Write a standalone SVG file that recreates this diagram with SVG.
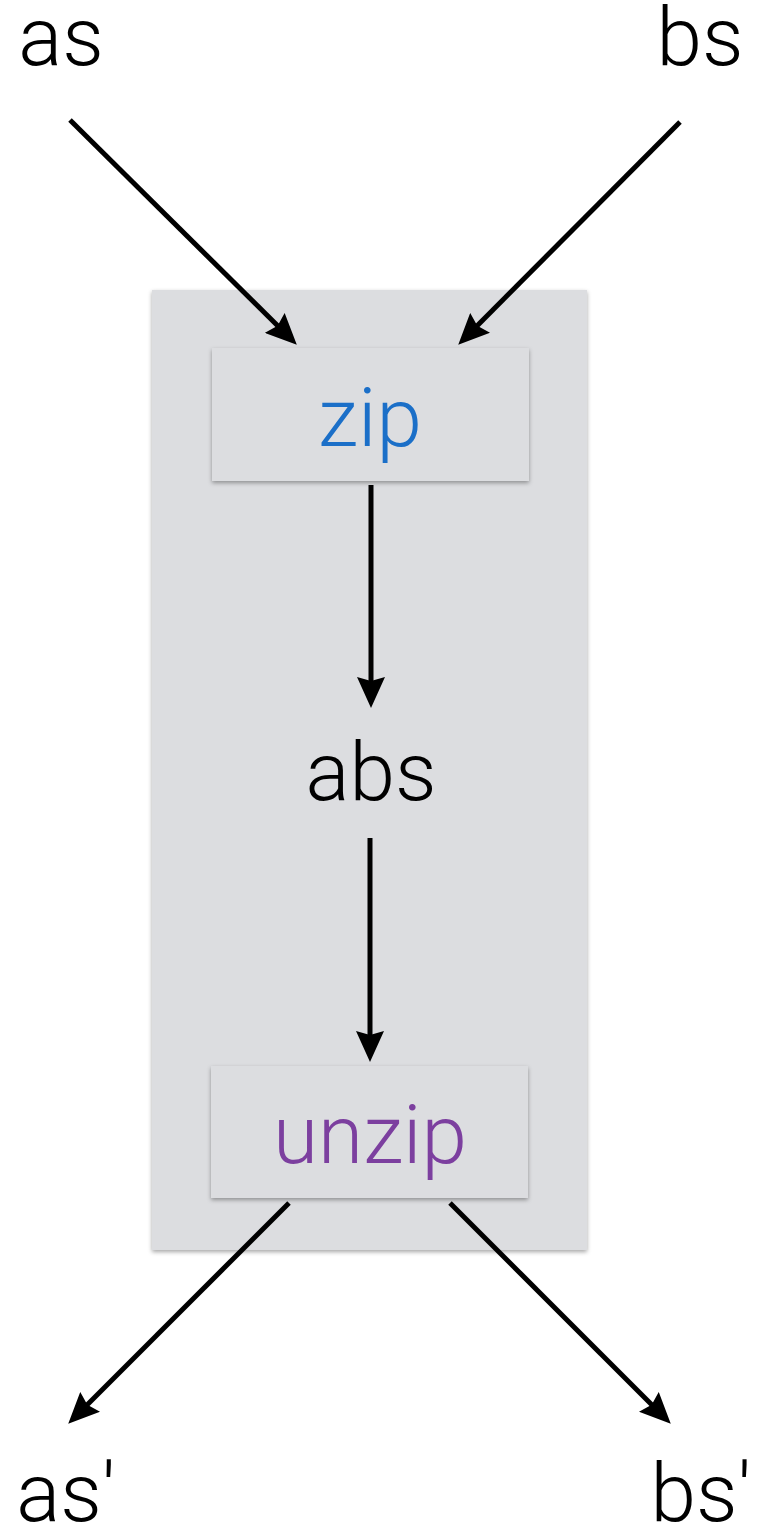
<svg xmlns="http://www.w3.org/2000/svg" width="757" height="1529" viewBox="0 0 757 1529">
<defs>
<style>
.lbl{font-family:Roboto,"Liberation Sans",sans-serif;font-weight:300;font-size:82px;fill:#000;text-anchor:middle}
.box{fill:#dcdde0}
.edge{stroke:#000;stroke-width:5;fill:none;marker-end:url(#ah)}
</style>
<marker id="ah" markerUnits="userSpaceOnUse" markerWidth="32" markerHeight="28" viewBox="0 0 32 28" refX="20" refY="14" orient="auto">
<path d="M0,0 L31,14 L0,28 L4,14 z" fill="#000"/>
</marker>
<filter id="sh" x="-10%" y="-10%" width="120%" height="120%">
<feDropShadow dx="0" dy="2" stdDeviation="2" flood-color="#000" flood-opacity="0.35"/>
</filter>
</defs>
<rect id="container" class="box" x="152" y="290" width="435" height="960" filter="url(#sh)"/>
<g id="zip"><rect class="box" x="212" y="348" width="317" height="133" filter="url(#sh)"/><text class="lbl" x="370" y="446" style="fill:#1b6fc8">zip</text></g>
<g id="unzip"><rect class="box" x="211" y="1066" width="317" height="132" filter="url(#sh)"/><text class="lbl" x="370" y="1163" style="fill:#7c3f9f">unzip</text></g>
<g id="as"><text class="lbl" x="61" y="65">as</text></g>
<g id="bs"><text class="lbl" x="700" y="65">bs</text></g>
<g id="abs"><text class="lbl" x="371" y="800">abs</text></g>
<g id="as2"><text class="lbl" x="66" y="1521">as'</text></g>
<g id="bs2"><text class="lbl" x="701" y="1521">bs'</text></g>
<g id="connectors">
<line class="edge" x1="70" y1="120" x2="289" y2="337"/>
<line class="edge" x1="680" y1="122" x2="466" y2="337"/>
<line class="edge" x1="371" y1="485" x2="371" y2="697"/>
<line class="edge" x1="370" y1="838" x2="370" y2="1051"/>
<line class="edge" x1="289" y1="1203" x2="76" y2="1416"/>
<line class="edge" x1="450" y1="1203" x2="663" y2="1416"/>
</g>
</svg>
